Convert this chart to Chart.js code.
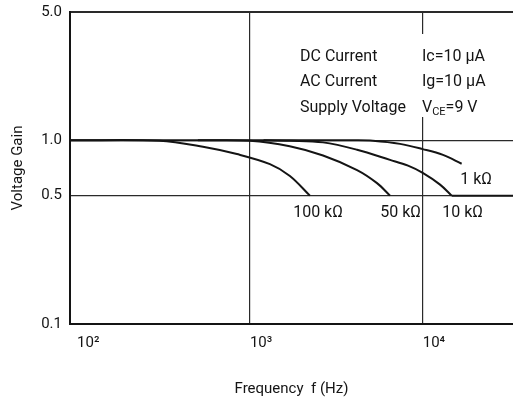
<!DOCTYPE html>
<html>
<head>
<meta charset="utf-8">
<script src="https://cdn.jsdelivr.net/npm/chart.js@4"></script>
<style>
  html, body { margin: 0; padding: 0; background: #fff; }
  canvas { display: block; }
</style>
</head>
<body>
<canvas id="gainChart" width="513" height="400"></canvas>
<script>
// data (frequency in Hz, voltage gain)
const xTicks = [100, 1000, 10000];
const xTickLabels = ['10²', '10³', '10⁴'];
const yTicks = [0.1, 0.5, 1, 5];

const seriesNames = ['1 kΩ', '10 kΩ', '50 kΩ', '100 kΩ'];

const freq1k = [91, 4000, 5150, 7390, 10000, 13100, 16800];
const gain1k = [1.0, 1.0, 0.995, 0.957, 0.896, 0.833, 0.746];

const freq10k = [1200, 1700, 2650, 4170, 6470, 8220, 10000, 12600, 14700];
const gain10k = [1.0, 0.995, 0.975, 0.889, 0.783, 0.728, 0.665, 0.574, 0.5];

// the 10 kΩ trace runs on along the 0.5 line to the right edge
const freq10kTail = [14700, 33300];
const gain10kTail = [0.5, 0.5];

const freq50k = [500, 1000, 1700, 2650, 4170, 5440, 6470];
const gain50k = [1.0, 0.995, 0.929, 0.827, 0.689, 0.585, 0.5];

const freq100k = [91, 300, 535, 841, 1306, 1704, 2225];
const gain100k = [1.0, 0.995, 0.923, 0.842, 0.742, 0.640, 0.5];

const FONT = 'Roboto, "Liberation Sans", sans-serif';
const INK = '#141414';

function toPoints(fs, gs) {
    return fs.map((f, i) => ({ x: f, y: gs[i] }));
}

// labels next to the curves, anchored in data coordinates
const curveLabels = [
    { text: '100 kΩ', f: 1780, g: 0.40 },
    { text: '50 kΩ', f: 5680, g: 0.40 },
    { text: '10 kΩ', f: 12980, g: 0.40 },
    { text: '1 kΩ', f: 16500, g: 0.605 }
];

const notesPlugin = {
    id: 'notes',
    afterDraw(chart) {
        const ctx = chart.ctx;
        const xs = chart.scales.x;
        const ys = chart.scales.y;
        ctx.save();

        // white box behind the condition text (breaks the 10^4 gridline)
        ctx.fillStyle = '#fff';
        ctx.fillRect(417, 34, 80, 83);

        ctx.fillStyle = INK;
        ctx.textBaseline = 'middle';
        ctx.textAlign = 'left';
        ctx.font = '16px ' + FONT;
        ctx.fillText('DC Current', 300, 57);
        ctx.fillText('AC Current', 300, 82);
        ctx.fillText('Supply Voltage', 300, 108);
        ctx.fillText('Ic=10 μA', 422, 57);
        ctx.fillText('Ig=10 μA', 422, 82);

        // V_CE=9 V with subscript
        let x = 422;
        ctx.fillText('V', x, 108);
        x += ctx.measureText('V').width;
        ctx.font = '11px ' + FONT;
        ctx.fillText('CE', x, 112);
        x += ctx.measureText('CE').width;
        ctx.font = '16px ' + FONT;
        ctx.fillText('=9 V', x, 108);

        curveLabels.forEach(l => {
            ctx.fillText(l.text, xs.getPixelForValue(l.f), ys.getPixelForValue(l.g));
        });
        ctx.restore();
    }
};

const lineStyle = {
    borderColor: INK,
    borderWidth: 2,
    pointRadius: 0,
    fill: false,
    tension: 0.35
};

const ctx = document.getElementById('gainChart').getContext('2d');
new Chart(ctx, {
    type: 'line',
    data: {
        datasets: [
            Object.assign({ label: seriesNames[0], data: toPoints(freq1k, gain1k) }, lineStyle),
            Object.assign({ label: seriesNames[1], data: toPoints(freq10k, gain10k) }, lineStyle),
            Object.assign({ label: seriesNames[1] + ' (tail)', data: toPoints(freq10kTail, gain10kTail) }, lineStyle),
            Object.assign({ label: seriesNames[2], data: toPoints(freq50k, gain50k) }, lineStyle),
            Object.assign({ label: seriesNames[3], data: toPoints(freq100k, gain100k) }, lineStyle)
        ]
    },
    options: {
        responsive: false,
        animation: false,
        layout: { padding: { top: 12, right: 0, bottom: 0, left: 0 } },
        plugins: {
            legend: { display: false },
            tooltip: { enabled: false }
        },
        scales: {
            x: {
                type: 'logarithmic',
                min: 91,
                max: 33300,
                afterBuildTicks: scale => {
                    scale.ticks = xTicks.map(v => ({ value: v }));
                },
                afterFit: scale => { scale.height = 76; },
                ticks: {
                    align: 'start',
                    padding: 10,
                    color: INK,
                    font: { family: FONT, size: 15 },
                    callback: (value) => xTickLabels[xTicks.indexOf(value)]
                },
                grid: {
                    drawTicks: false,
                    color: c => (c.tick && c.tick.value === 100) ? 'rgba(0,0,0,0)' : '#2a2a2a',
                    lineWidth: 1.2
                },
                border: { color: INK, width: 2 },
                title: {
                    display: true,
                    text: 'Frequency  f (Hz)',
                    color: INK,
                    font: { family: FONT, size: 15 },
                    padding: { top: 0, bottom: 2 }
                }
            },
            y: {
                type: 'logarithmic',
                min: 0.1,
                max: 5,
                afterBuildTicks: scale => {
                    scale.ticks = yTicks.map(v => ({ value: v }));
                },
                afterFit: scale => {
                    scale.width = 70;
                    scale.paddingTop = 0;
                    scale.paddingBottom = 0;
                },
                ticks: {
                    padding: 8,
                    color: INK,
                    font: { family: FONT, size: 15 },
                    callback: (value) => Number(value).toFixed(1)
                },
                grid: {
                    drawTicks: false,
                    color: '#2a2a2a',
                    lineWidth: c => (c.tick && c.tick.value === 5) ? 2 : 1.2
                },
                border: { color: INK, width: 2 },
                title: {
                    display: true,
                    text: 'Voltage Gain',
                    color: INK,
                    font: { family: FONT, size: 15 },
                    padding: { top: 9, bottom: 0 }
                }
            }
        }
    },
    plugins: [notesPlugin]
});
</script>
</body>
</html>
